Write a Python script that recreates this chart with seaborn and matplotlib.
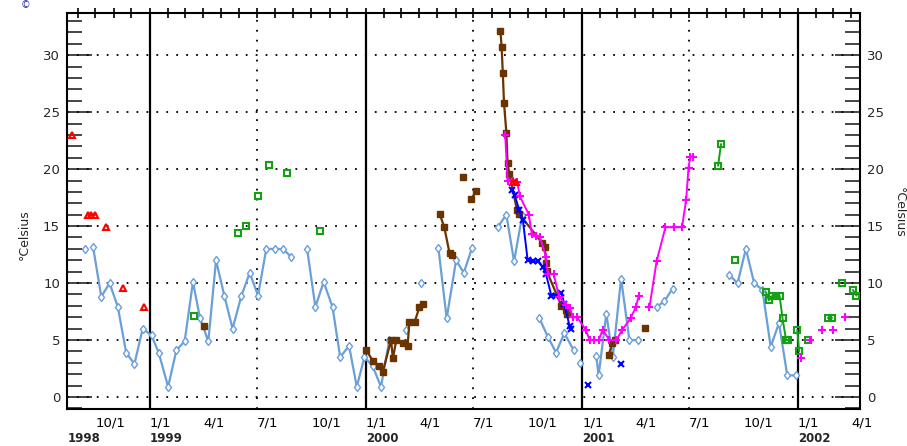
import matplotlib
matplotlib.use("Agg")
import matplotlib.pyplot as plt
import matplotlib.dates as mdates
import matplotlib.transforms as mtransforms
from matplotlib.ticker import MultipleLocator
import numpy as np
import pandas as pd
import seaborn as sns

# ---------------- data (None = break in the line) ----------------
LB_dates = ['1998-09-13', None, '1998-09-27', '1998-10-11', '1998-10-25', '1998-11-08', '1998-11-22',
            '1998-12-06', '1998-12-20', '1999-01-04', '1999-01-16', '1999-02-01', '1999-02-15', '1999-03-01',
            '1999-03-15', '1999-03-27', '1999-04-10', '1999-04-23', '1999-05-07', '1999-05-21', '1999-06-05',
            '1999-06-19', '1999-07-03', '1999-07-17', '1999-07-31', '1999-08-14', '1999-08-28', None,
            '1999-09-24', '1999-10-08', '1999-10-22', '1999-11-06', '1999-11-19', '1999-12-04', '1999-12-17',
            '1999-12-30', '2000-01-13', '2000-01-27', '2000-02-10', None, '2000-03-10', None, '2000-04-04', None,
            '2000-05-03', '2000-05-17', '2000-06-02', '2000-06-15', '2000-06-29', None,
            '2000-08-11', '2000-08-26', '2000-09-08', '2000-09-22', None,
            '2000-10-21', '2000-11-04', '2000-11-18', '2000-12-02', '2000-12-18', None,
            '2000-12-28', None, '2001-01-25', '2001-01-29', '2001-02-11', '2001-02-22', '2001-03-08', '2001-03-22',
            '2001-04-05', None, '2001-05-07', '2001-05-20', '2001-06-03', None,
            '2001-09-07', '2001-09-21', '2001-10-05', '2001-10-19', '2001-11-02', '2001-11-16', '2001-11-30',
            '2001-12-14', '2001-12-28']
LB_vals = [13.0, None, 13.2, 8.8, 10.0, 7.9, 3.9,
           2.9, 6.0, 5.4, 3.9, 0.9, 4.1, 4.9,
           10.1, 6.9, 4.9, 12.0, 8.9, 6.0, 8.9,
           10.9, 8.9, 13.0, 13.0, 13.0, 12.3, None,
           13.0, 7.9, 10.1, 7.9, 3.5, 4.5, 0.9,
           3.5, 2.7, 0.9, 5.0, None, 5.9, None, 10.0, None,
           13.1, 6.9, 12.0, 10.9, 13.1, None,
           14.9, 16.0, 11.9, 16.0, None,
           6.9, 5.3, 3.9, 5.6, 4.1, None,
           2.95, None, 3.6, 1.9, 7.3, 3.5, 10.4, 5.0,
           5.0, None, 7.9, 8.4, 9.5, None,
           10.7, 10.0, 13.0, 10.0, 9.4, 4.4, 6.5,
           1.9, 1.9]

R_dates = ['1998-08-22', None, '1998-09-18', '1998-09-24', '1998-09-30', None, '1998-10-19', None,
           '1998-11-17', None, '1998-12-23', None, '2000-09-06', '2000-09-12']
R_vals = [23.0, None, 16.0, 16.0, 16.0, None, 14.9, None, 9.6, None, 7.9, None, 18.9, 18.9]

G_dates = ['1999-03-16', None, '1999-05-30', None, '1999-06-13', None, '1999-07-03', None, '1999-07-22', None,
           '1999-08-21', None, '1999-10-16', None, '2001-08-19', '2001-08-24', None, '2001-09-16', None,
           '2001-11-08', '2001-11-13', '2001-11-19', '2001-11-25', '2001-12-01', '2001-12-06', '2001-12-12',
           '2001-12-15', None, '2001-12-31', '2002-01-03', None, '2002-01-18', None, '2002-02-21', '2002-02-27',
           None, '2002-03-16', None, '2002-04-04', '2002-04-10']
G_vals = [7.1, None, 14.4, None, 15.0, None, 17.6, None, 20.4, None,
          19.7, None, 14.6, None, 20.3, 22.2, None, 12.0, None,
          9.2, 8.5, 8.9, 8.9, 8.9, 6.9, 5.0,
          5.0, None, 5.9, 4.0, None, 5.0, None, 6.9, 6.9,
          None, 10.0, None, 9.4, 8.9]

B_dates = ['1999-04-02', None, '2000-01-02', '2000-01-13', '2000-01-24', '2000-01-30', '2000-02-13', '2000-02-16',
           '2000-02-22', '2000-03-04', '2000-03-12', '2000-03-15', '2000-03-24', '2000-04-01', '2000-04-07', None,
           '2000-05-05', '2000-05-13', '2000-05-22', '2000-05-26', None, '2000-06-13', None, '2000-06-28',
           '2000-07-06', None, '2000-08-16', '2000-08-18', '2000-08-20', '2000-08-22', '2000-08-26', '2000-08-28',
           '2000-08-31', '2000-09-13', '2000-09-16', '2000-10-26', '2000-10-30', '2000-11-01', '2000-11-02',
           '2000-11-27', '2000-12-04', '2000-12-06', None, '2001-02-15', '2001-02-21', '2001-02-25', None,
           '2001-04-17']
B_vals = [6.2, None, 4.1, 3.2, 2.7, 2.2, 5.0, 3.4,
          5.0, 4.7, 4.5, 6.6, 6.6, 7.9, 8.2, None,
          16.1, 14.9, 12.6, 12.5, None, 19.3, None, 17.4,
          18.1, None, 32.1, 30.7, 28.4, 25.8, 23.2, 20.5,
          19.6, 16.4, 16.1, 13.5, 13.2, 11.75, 11.1,
          8.0, 7.6, 7.3, None, 3.7, 4.7, 5.0, None,
          6.1]

X_dates = ['2000-09-05', '2000-09-09', '2000-09-17', '2000-09-23', '2000-10-01', '2000-10-10', '2000-10-18',
           '2000-10-27', '2000-11-01', '2000-11-10', '2000-11-18', '2000-11-27', '2000-12-02', '2000-12-11',
           '2000-12-14', None, '2001-01-11', None, '2001-03-07']
X_vals = [18.2, 17.7, 16.4, 15.5, 12.0, 11.9, 11.9,
          11.4, 10.8, 8.9, 8.9, 9.1, 8.2, 6.2,
          6.0, None, 1.05, None, 2.9]

M_dates = ['2000-08-24', '2000-08-28', '2000-09-06', '2000-09-13', '2000-09-18', '2000-10-03', '2000-10-08',
           '2000-10-15', '2000-10-22', '2000-11-01', '2000-11-04', '2000-11-14', '2000-11-23', '2000-12-05',
           '2000-12-12', '2000-12-16', '2000-12-24', '2001-01-07', '2001-01-14', '2001-01-22', '2001-01-29',
           '2001-02-05', '2001-02-16', '2001-02-28', '2001-03-10', '2001-03-24', '2001-04-02', '2001-04-07', None,
           '2001-04-25', '2001-05-07', '2001-05-22', '2001-06-05', '2001-06-19', '2001-06-26', '2001-06-30',
           '2001-07-03', '2001-07-08', None, '2002-01-07', None, '2002-01-21', None, '2002-02-11', None,
           '2002-03-02', None, '2002-03-21']
M_vals = [23.0, 19.0, 19.0, 18.9, 17.6, 16.0, 14.3,
          14.1, 14.0, 12.3, 10.8, 10.8, 8.8, 8.1,
          7.8, 7.0, 7.0, 5.9, 5.0, 5.0, 5.0,
          5.9, 5.0, 5.0, 5.9, 6.9, 7.9, 8.9, None,
          7.9, 11.9, 14.9, 14.9, 14.9, 17.3, 20.1,
          21.1, 21.1, None, 3.4, None, 5.0, None, 5.9, None,
          5.9, None, 7.0]

month_ticks = ['1998-10-01', '1999-01-01', '1999-04-01', '1999-07-01', '1999-10-01', '2000-01-01', '2000-04-01',
               '2000-07-01', '2000-10-01', '2001-01-01', '2001-04-01', '2001-07-01', '2001-10-01', '2002-01-01',
               '2002-04-01']
month_labels = ['10/1', '1/1', '4/1', '7/1', '10/1', '1/1', '4/1', '7/1', '10/1', '1/1', '4/1', '7/1', '10/1',
                '1/1', '4/1']
year_pos = ['1998-08-15', '1999-01-01', '2000-01-01', '2001-01-01', '2002-01-01']
year_labels = ['1998', '1999', '2000', '2001', '2002']
year_lines = ['1999-01-01', '2000-01-01', '2001-01-01', '2002-01-01']
mid_lines = ['1999-07-01', '2000-07-01', '2001-07-01']

# ---------------- figure ----------------
sns.set_style("white")
plt.rcParams['font.family'] = ['DejaVu Sans']

fig = plt.figure(figsize=(9.07, 4.46), dpi=100)
ax = fig.add_axes([67 / 907, 1 - 409 / 446, (860 - 67) / 907, (409 - 13) / 446])

# grid / reference lines
for yv in range(0, 31, 5):
    ax.axhline(yv, color='black', lw=1.3, linestyle=(0, (1, 4.5)), zorder=1)
for d in mid_lines:
    ax.axvline(pd.Timestamp(d), color='black', lw=1.3, linestyle=(0, (1, 4.5)), zorder=1)
for d in year_lines:
    ax.axvline(pd.Timestamp(d), color='black', lw=1.6, zorder=1)


def draw(dates, vals, color, marker, ms, mfc, lw, mew=1.0):
    assert len(dates) == len(vals)
    df = pd.DataFrame({'date': pd.to_datetime(pd.Series(dates)),
                       'val': pd.to_numeric(pd.Series(vals, dtype=object), errors='coerce')})
    df['seg'] = df['val'].isna().cumsum()
    df = df.dropna()
    sns.lineplot(data=df, x='date', y='val', units='seg', estimator=None, sort=False,
                 color=color, marker=marker, markersize=ms, markerfacecolor=mfc,
                 markeredgecolor=color, markeredgewidth=mew, lw=lw, ax=ax, legend=False, zorder=3)


draw(LB_dates, LB_vals, '#6a9fd8', 'd', 4.5, 'white', 1.6)
draw(G_dates, G_vals, '#15a015', 's', 5, 'none', 1.4, 1.5)
draw(B_dates, B_vals, '#6b3300', 's', 4.5, '#6b3300', 1.6)
draw(X_dates, X_vals, '#0000ff', 'x', 4.5, '#0000ff', 1.4, 1.5)
draw(M_dates, M_vals, '#ff00ff', '+', 6, '#ff00ff', 1.4, 1.5)
draw(R_dates, R_vals, '#ff0000', '^', 4.5, 'none', 1.4, 1.5)

# limits
ax.set_xlim(pd.Timestamp('1998-08-14'), pd.Timestamp('2002-04-16'))
ax.set_ylim(-1.05, 33.7)

# x ticks
ax.set_xticks([pd.Timestamp(d) for d in month_ticks])
ax.set_xticklabels(month_labels, ha='left', fontsize=9.5)
ax.xaxis.set_minor_locator(mdates.MonthLocator())
ax.tick_params(axis='x', which='both', direction='inout', length=7, width=1.2, top=True, pad=2,
               colors='black')

# y ticks
ax.set_yticks(range(0, 31, 5))
ax.set_yticklabels([str(v) for v in range(0, 31, 5)], fontsize=9.5)
ax.yaxis.set_minor_locator(MultipleLocator(1))
ax.tick_params(axis='y', which='major', direction='in', length=18, width=1.2, left=True, right=True,
               labelleft=True, labelright=True, pad=5)
ax.tick_params(axis='y', which='minor', direction='in', length=11, width=1.2, left=True, right=True)

ax.set_xlabel('')
ax.set_ylabel('')
for sp in ax.spines.values():
    sp.set_visible(True)
    sp.set_color('black')
    sp.set_linewidth(1.5)

# year labels
trans = mtransforms.blended_transform_factory(ax.transData, fig.transFigure)
for d, lab in zip(year_pos, year_labels):
    ax.text(pd.Timestamp(d), 1 - 438 / 446, lab, transform=trans, ha='left', va='center',
            fontsize=8.5, fontweight='bold', clip_on=False)

# axis titles
fig.text(24 / 907, 1 - 235 / 446, '°Celsius', rotation=90, ha='center', va='center', fontsize=9)
fig.text(899 / 907, 1 - 212 / 446, '°Celsius', rotation=270, ha='center', va='center', fontsize=9)

# small header mark
fig.text(25 / 907, 1 - 5 / 446, '©', color='#3030c0', ha='center', va='center', fontsize=7)

fig.savefig('out.png', dpi=100)
